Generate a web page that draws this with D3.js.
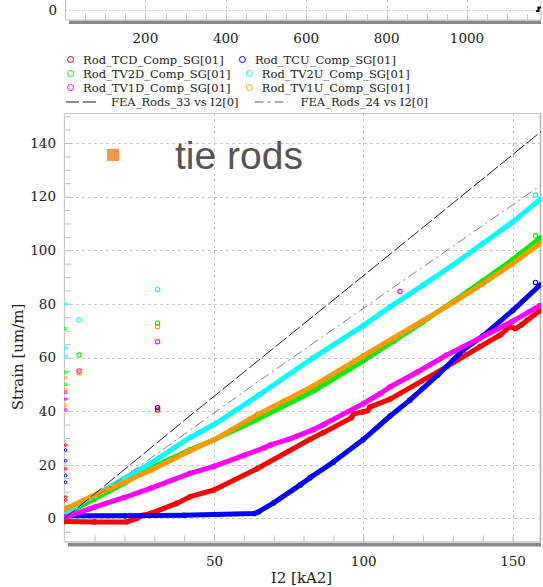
<!DOCTYPE html>
<html><head><meta charset="utf-8">
<script src="https://cdn.jsdelivr.net/npm/d3@7"></script>
<style>html,body{margin:0;padding:0;background:#fff;}svg{display:block;}</style>
</head><body>
<svg id="chart" width="543" height="587"></svg>
<script>
// ---------- data ----------
const seriesNames = ["Rod_TCD_Comp_SG[01]","Rod_TCU_Comp_SG[01]","Rod_TV2D_Comp_SG[01]","Rod_TV2U_Comp_SG[01]","Rod_TV1D_Comp_SG[01]","Rod_TV1U_Comp_SG[01]"];
const seriesColors = ["#ff0000","#0000ff","#00ee00","#00ffff","#ff00ff","#ff9900"];
// [I2 (kA2), strain (um/m)]
const rodTCD = [[0,-1.2],[10,-1.3],[20.8,-1.3],[24.1,0],[26.3,1.2],[28.9,1.9],[37.5,5.6],[42,8.1],[50,10.6],[64.4,18.5],[82.2,29.5],[86.7,32],[96,37.5],[96.8,39],[100,39.8],[101.5,40.2],[102.2,41.5],[109,44.5],[128,56.6],[139,64],[146,68.5],[149,71.5],[151,70.8],[153,72.2],[155,74],[159.2,77.5]];
const rodTCU = [[0,1.0],[20,1.0],[40,1.2],[63.5,1.8],[65,2.5],[70,5.8],[78.9,12.5],[82.2,15.2],[90,21],[100,29.4],[108.9,38.1],[115.6,44.1],[125,53.5],[133.5,62.8],[140,68],[150.2,77.7],[159.2,87]];
const rodTV2D = [[0,1.5],[10,7.3],[20,13.2],[28.9,18.8],[42,25.6],[50,29.3],[64.4,36.9],[83.3,47.5],[100,58.8],[110,66],[120,73.3],[130,80.8],[140,88.5],[150,96.5],[159.2,104.5]];
const rodTV2U = [[0,2.0],[10,8.5],[20,15],[28.9,20.6],[42,30.2],[50,35],[65,46],[83.3,60],[100,71.9],[105.6,76.3],[108.9,78.8],[120,87],[130,94.5],[140,102.5],[150,110.5],[159.2,119]];
const rodTV1D = [[0,0.4],[10,4.2],[20,7.8],[28.9,11.3],[42,16.8],[50,19.4],[60,23.5],[67,26.4],[68.9,27.4],[75,29.5],[83.3,33.1],[86.7,35],[100,42.8],[105.6,46.5],[108.9,49],[118,54.5],[127.9,60.9],[139,67.2],[150,73.5],[159.2,79.4]];
const rodTV1U = [[0,3.4],[10,8.7],[20,13.6],[28.9,18],[42,25.2],[50,29.3],[64.4,38.6],[83.3,49.4],[100,60.6],[110,67.2],[120,73.8],[130,80.5],[140,87.5],[150,95],[159.2,102.6]];
const seriesData = [rodTCD, rodTCU, rodTV2D, rodTV2U, rodTV1D, rodTV1U];
// stray points (series index, I2, strain)
const strayPoints = [[3,4.8,74],[2,4.8,60.9],[4,4.8,55],[5,4.8,54.3],[3,31.1,85.4],[2,31.1,72.8],[5,31.1,71.5],[4,31.1,65.9],[1,31.1,41.3],[0,31.1,40.4],[4,112.3,84.6],[3,157.7,120.6],[2,157.7,105.4],[1,157.7,88]];
const edgePoints = [[3,0.3,80],[2,0.3,70.8],[3,0.3,63.5],[3,0.3,60.5],[2,0.3,54.5],[5,0.3,52.5],[2,0.3,50],[5,0.3,48],[4,0.3,47],[4,0.3,44.5],[5,0.3,42],[4,0.3,40.5],[0,0.3,27.3],[1,0.3,25.5],[1,0.3,21.5],[0,0.3,18.5],[1,0.3,16],[1,0.3,13.5],[0,0.3,8],[0,0.3,6.8]];
const fea33 = [[0,0],[42,38.3],[65.4,59.4],[105.6,95.5],[159.7,144.4]];
const fea24 = [[0,0],[28.9,22.5],[65.4,51.5],[107.3,84],[159.7,124.4]];
const yTickValues = [0,20,40,60,80,100,120,140];
const xTickValues = [50,100,150];
const topTickValues = [200,400,600,800,1000];

// ---------- layout ----------
const svg = d3.select("#chart");
const serif = "'DejaVu Serif', serif";
const x = d3.scaleLinear().domain([0,159.2]).range([64.7,540]);
const y = d3.scaleLinear().domain([-8.8,151.2]).range([542,113]);
const xt = d3.scaleLinear().domain([0,1184]).range([65,541]);

// ---------- top strip ----------
const topG = svg.append("g");
topG.append("rect").attr("x",69).attr("y",20.5).attr("width",472).attr("height",3.5).attr("fill","#8a8a8a");
topG.append("line").attr("x1",65).attr("x2",541).attr("y1",10.5).attr("y2",10.5).attr("stroke","#cfcfcf").attr("stroke-dasharray","2,2");
topG.selectAll("line.tg").data(topTickValues).join("line").attr("class","tg")
  .attr("x1",d=>Math.round(xt(d))+0.5).attr("x2",d=>Math.round(xt(d))+0.5).attr("y1",0).attr("y2",20)
  .attr("stroke","#c8c8c8").attr("stroke-dasharray","3,2");
topG.selectAll("line.tm").data(d3.range(50,1184,50)).join("line").attr("class","tm")
  .attr("x1",d=>Math.round(xt(d))+0.5).attr("x2",d=>Math.round(xt(d))+0.5).attr("y1",14).attr("y2",20)
  .attr("stroke","#c4c4c4");
topG.append("path").attr("d","M65.5,0V20H541V0").attr("fill","none").attr("stroke","#c4c4c4");
topG.append("path").attr("d","M536,11H538.5V7.5H541").attr("fill","none").attr("stroke","#111").attr("stroke-width",2.2);
topG.append("text").attr("x",57).attr("y",15).attr("text-anchor","end").attr("font-family",serif).attr("font-size",13.5).attr("fill","#222").text("0");
topG.selectAll("text.tl").data(topTickValues).join("text").attr("class","tl")
  .attr("x",d=>xt(d)).attr("y",43).attr("text-anchor","middle").attr("font-family",serif).attr("font-size",13.5).attr("fill","#222").text(d=>d);

// ---------- legend ----------
const leg = svg.append("g").attr("font-family",serif).attr("font-size",11.5).attr("fill","#222");
const legPos = [[70.6,59.5],[242.4,59.5],[70.6,73.5],[249.3,73.5],[70.6,87.5],[249.3,87.5]];
seriesNames.forEach((n,i)=>{
  const [lx,ly]=legPos[i];
  leg.append("circle").attr("cx",lx).attr("cy",ly).attr("r",3).attr("fill","none").attr("stroke",seriesColors[i]).attr("stroke-width",1);
  leg.append("text").attr("x",lx+12.5).attr("y",ly+4).text(n);
});
leg.append("line").attr("x1",66).attr("x2",100).attr("y1",102).attr("y2",102).attr("stroke","#8a8a8a").attr("stroke-width",2.2).attr("stroke-dasharray","13,4");
leg.append("text").attr("x",111).attr("y",106).text("FEA_Rods_33 vs I2[0]");
leg.append("line").attr("x1",254.5).attr("x2",288).attr("y1",102).attr("y2",102).attr("stroke","#b0b0b0").attr("stroke-width",2).attr("stroke-dasharray","9,4,3,4");
leg.append("text").attr("x",300.5).attr("y",106).text("FEA_Rods_24 vs I2[0]");

// ---------- main plot frame ----------
const g = svg.append("g");
g.append("rect").attr("x",68).attr("y",543).attr("width",473).attr("height",3.5).attr("fill","#8a8a8a");
g.selectAll("line.hg").data(yTickValues).join("line").attr("class","hg")
  .attr("x1",64).attr("x2",540).attr("y1",d=>Math.round(y(d))+0.5).attr("y2",d=>Math.round(y(d))+0.5)
  .attr("stroke","#c8c8c8").attr("stroke-dasharray","3,3");
g.selectAll("line.vg").data(xTickValues).join("line").attr("class","vg")
  .attr("x1",d=>Math.round(x(d))+0.5).attr("x2",d=>Math.round(x(d))+0.5).attr("y1",113).attr("y2",542)
  .attr("stroke","#c8c8c8").attr("stroke-dasharray","3,3");
const yMinor = d3.range(-5,151,5);
const xMinor = d3.range(10,160,10);
const ya = g.append("g").attr("transform","translate(64.5,0)")
  .call(d3.axisRight(y).tickValues(yMinor).tickSize(6).tickFormat(""));
const xa = g.append("g").attr("transform","translate(0,541.5)")
  .call(d3.axisTop(x).tickValues(xMinor).tickSize(6).tickFormat(""));
[ya,xa].forEach(a=>{a.select(".domain").remove();a.selectAll("line").attr("stroke","#bdbdbd");});
g.append("path").attr("d","M64.5,542V113.5H540.5V542").attr("fill","none").attr("stroke","#c8c8c8").attr("stroke-width",1.2);
g.append("line").attr("x1",64).attr("x2",541).attr("y1",542).attr("y2",542).attr("stroke","#a8a8a8");
g.append("line").attr("x1",540.5).attr("x2",540.5).attr("y1",113).attr("y2",543).attr("stroke","#b8b8b8").attr("stroke-width",1.5);
const yl = g.append("g").attr("transform","translate(64,0)")
  .call(d3.axisLeft(y).tickValues(yTickValues).tickSize(0).tickPadding(8));
const xl = g.append("g").attr("transform","translate(0,542)")
  .call(d3.axisBottom(x).tickValues(xTickValues).tickSize(0).tickPadding(14));
[yl,xl].forEach(a=>{a.select(".domain").remove();a.selectAll("text").attr("font-family",serif).attr("font-size",13.5).attr("fill","#222");});
g.append("text").attr("transform","translate(23,357) rotate(-90)").attr("text-anchor","middle")
  .attr("font-family",serif).attr("font-size",15).attr("fill","#222").text("Strain [um/m]");
g.append("text").attr("x",301.5).attr("y",583).attr("text-anchor","middle")
  .attr("font-family",serif).attr("font-size",15).attr("fill","#222").text("I2 [kA2]");

// ---------- data ----------
svg.append("clipPath").attr("id","clip").append("rect").attr("x",64).attr("y",113).attr("width",477).attr("height",429);
const plot = svg.append("g").attr("clip-path","url(#clip)");
const line = d3.line().x(d=>x(d[0])).y(d=>y(d[1]));
seriesData.forEach((data,i)=>{
  plot.append("path").datum(data).attr("d",line).attr("fill","none").attr("stroke",seriesColors[i])
    .attr("stroke-width",5).attr("stroke-linejoin","round").attr("stroke-linecap","round");
  plot.selectAll(null).data(data).join("circle").attr("cx",d=>x(d[0])).attr("cy",d=>y(d[1])).attr("r",2.2)
    .attr("fill","none").attr("stroke",seriesColors[i]).attr("stroke-width",1.2);
});
plot.selectAll("circle.edge").data(edgePoints).join("circle").attr("class","edge")
  .attr("cx",d=>x(d[1])).attr("cy",d=>y(d[2])).attr("r",1.3).attr("fill","none").attr("stroke",d=>seriesColors[d[0]]).attr("stroke-width",1);
plot.selectAll("circle.stray").data(strayPoints).join("circle").attr("class","stray")
  .attr("cx",d=>x(d[1])).attr("cy",d=>y(d[2])).attr("r",2.2).attr("fill","none").attr("stroke",d=>seriesColors[d[0]]).attr("stroke-width",1.1);
plot.append("path").datum(fea24).attr("d",line).attr("fill","none").attr("stroke","#808080").attr("stroke-width",1).attr("stroke-dasharray","10,4,2,4");
plot.append("path").datum(fea33).attr("d",line).attr("fill","none").attr("stroke","#222").attr("stroke-width",1).attr("stroke-dasharray","14,3");

// ---------- annotation ----------
svg.append("rect").attr("x",107).attr("y",149).attr("width",12).attr("height",12).attr("fill","#f79646");
svg.append("text").attr("x",175).attr("y",169).attr("font-family","'Liberation Sans', Arial, sans-serif")
  .attr("font-size",39).attr("fill","#555").text("tie rods");
</script>
</body></html>
